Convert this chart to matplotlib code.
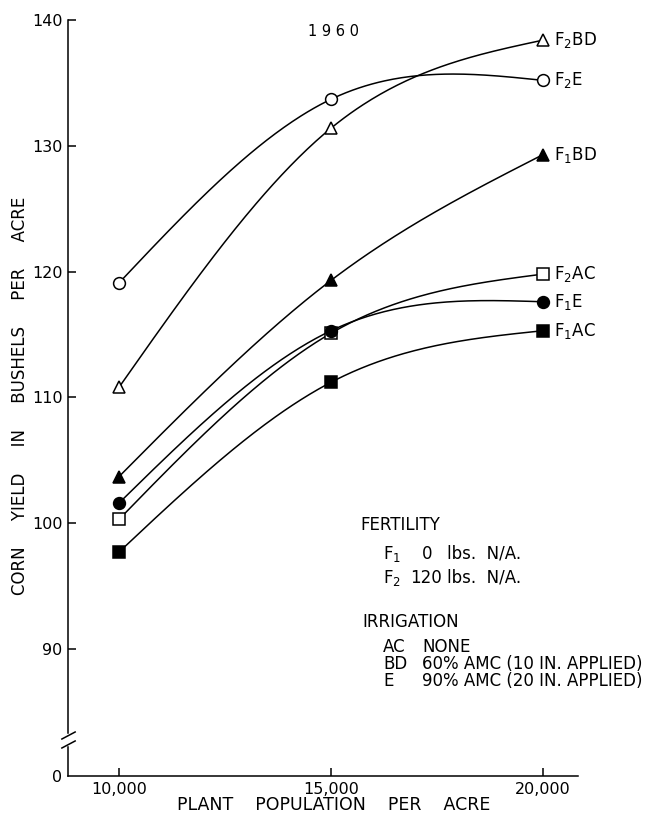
import numpy as np
import matplotlib
matplotlib.use("Agg")
import matplotlib.pyplot as plt

plt.rcParams['font.family'] = ['DejaVu Sans']
plt.rcParams['mathtext.default'] = 'regular'

# plant population per acre
population = [10000, 15000, 20000]

# corn yield, bushels per acre
f2_bd = [110.8, 131.4, 138.4]
f2_e = [119.1, 133.7, 135.2]
f1_bd = [103.7, 119.3, 129.3]
f2_ac = [100.3, 115.1, 119.8]
f1_e = [101.6, 115.3, 117.6]
f1_ac = [97.7, 111.2, 115.3]

series = [
    ("F$_2$BD", f2_bd, "^", "white"),
    ("F$_2$E", f2_e, "o", "white"),
    ("F$_1$BD", f1_bd, "^", "black"),
    ("F$_2$AC", f2_ac, "s", "white"),
    ("F$_1$E", f1_e, "o", "black"),
    ("F$_1$AC", f1_ac, "s", "black"),
]

xticks = [10000, 15000, 20000]
xtick_labels = ["10,000", "15,000", "20,000"]
yticks = [0, 90, 100, 110, 120, 130, 140]
yticks_labels = ["0", "90", "100", "110", "120", "130", "140"]

# broken y axis: below 85 everything is squeezed down to the 0 mark
BRK = 85.0
LOW = 79.9


def fwd(v):
    v = np.asarray(v, dtype=float)
    return np.where(v >= BRK, v, LOW + v * (BRK - LOW) / BRK)


def inv(u):
    u = np.asarray(u, dtype=float)
    return np.where(u >= BRK, u, (u - LOW) * BRK / (BRK - LOW))


def natural_spline(x, y, n=100):
    # hand drawn look: natural cubic spline through the three points
    x = np.asarray(x, float)
    y = np.asarray(y, float)
    h = np.diff(x)
    m1 = 6 * ((y[2] - y[1]) / h[1] - (y[1] - y[0]) / h[0]) / (2 * (h[0] + h[1]))
    M = [0.0, m1, 0.0]
    xs_all, ys_all = [], []
    for i in range(2):
        t = np.linspace(x[i], x[i + 1], n)
        a = x[i + 1] - t
        b = t - x[i]
        s = (M[i] * a ** 3 + M[i + 1] * b ** 3) / (6 * h[i]) \
            + (y[i] / h[i] - M[i] * h[i] / 6) * a \
            + (y[i + 1] / h[i] - M[i + 1] * h[i] / 6) * b
        xs_all.append(t)
        ys_all.append(s)
    return np.concatenate(xs_all), np.concatenate(ys_all)


W, H = 650, 815
fig = plt.figure(figsize=(6.5, 8.15), dpi=100)
ax = fig.add_axes([68 / W, 1 - 776 / H, (578 - 68) / W, (776 - 20) / H])
ax.set_yscale('function', functions=(fwd, inv))
ax.set_xlim(8797, 20825)
ax.set_ylim(0, 140)

for name, vals, mk, fc in series:
    xs, ys = natural_spline(population, vals)
    ax.plot(xs, ys, color="black", lw=1.1, zorder=2)
    ax.plot(population, vals, ls="none", marker=mk, ms=8.5 if mk == "o" else 8,
            mfc=fc, mec="black", mew=1.1, zorder=3)
    ax.annotate(name, xy=(population[-1], vals[-1]), xytext=(8, 0),
                textcoords="offset points", va="center", ha="left", fontsize=12)

ax.spines['top'].set_visible(False)
ax.spines['right'].set_visible(False)
ax.spines['left'].set_bounds(57, 140)
ax.spines['left'].set_linewidth(1.1)
ax.spines['bottom'].set_linewidth(1.1)

# lower stub of the y axis and the break marks
tr = ax.get_yaxis_transform()
ax.plot([0, 0], [0, 38.4], color="black", lw=1.1, transform=tr, clip_on=False)
for y0, y1 in [(49, 58.3), (37.1, 46.4)]:
    ax.plot([-0.012, 0.014], [y0, y1], color="black", lw=1.1, transform=tr,
            clip_on=False)

ax.set_xticks(xticks)
ax.set_xticklabels(xtick_labels)
ax.set_yticks(yticks)
ax.set_yticklabels(yticks_labels)
ax.yaxis.set_minor_locator(matplotlib.ticker.NullLocator())
ax.tick_params(direction="in", length=6, width=1.1, labelsize=11.5, pad=4)
ax.yaxis.get_major_ticks()[0].tick1line.set_visible(False)

fig.text(20 / W, 1 - 396 / H, "CORN     YIELD     IN     BUSHELS     PER     ACRE",
         rotation=90, ha="center", va="center", fontsize=12)
fig.text(334 / W, 1 - 805 / H, "PLANT    POPULATION    PER    ACRE",
         ha="center", va="center", fontsize=12.5)
fig.text(333 / W, 1 - 32 / H, "1 9 6 0", ha="center", va="center", fontsize=10.5)

# key
def put(x, y, s):
    fig.text(x / W, 1 - y / H, s, ha="left", va="center", fontsize=12)

put(360, 525, "FERTILITY")
put(383, 554, "F$_1$")
put(422, 554, "0")
put(447, 554, "lbs.  N/A.")
put(383, 578, "F$_2$")
put(410, 578, "120")
put(447, 578, "lbs.  N/A.")
put(362, 622, "IRRIGATION")
put(383, 647, "AC")
put(422, 647, "NONE")
put(383, 664, "BD")
put(422, 664, "60% AMC (10 IN. APPLIED)")
put(383, 681, "E")
put(422, 681, "90% AMC (20 IN. APPLIED)")

fig.savefig("out.png", dpi=100)
